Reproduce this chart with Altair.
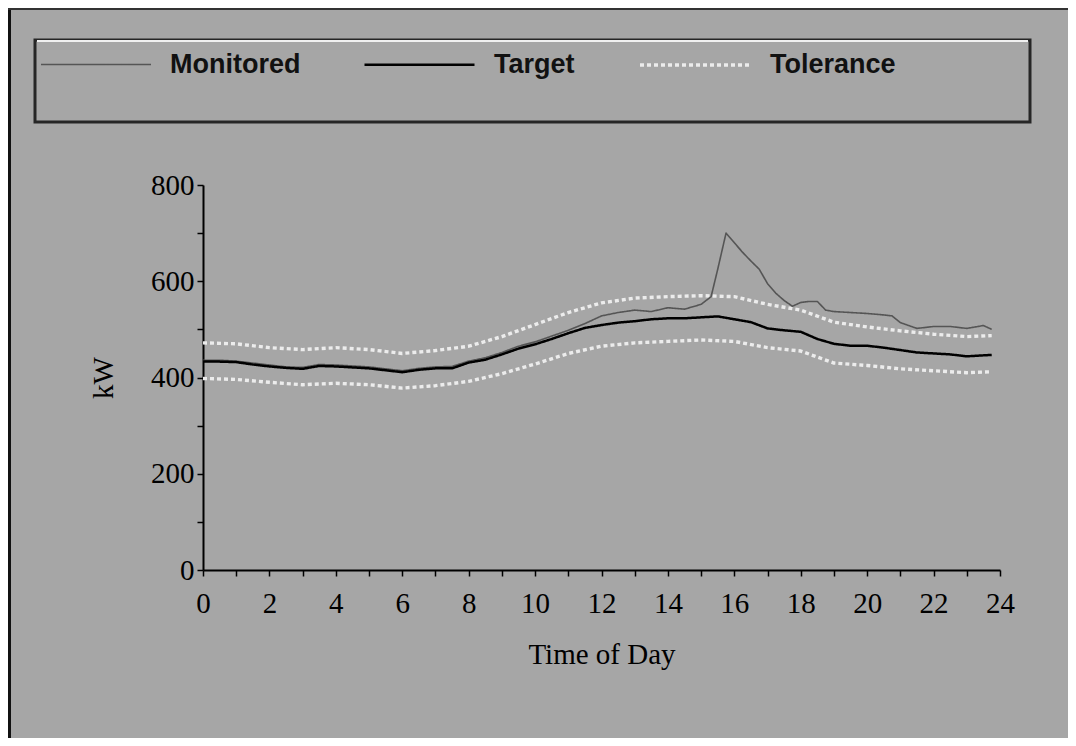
import altair as alt
import pandas as pd

# ---- data ----
hours = [0, 0.5, 1, 1.5, 2, 2.5, 3, 3.5, 4, 4.5, 5, 5.5, 6, 6.5, 7, 7.5, 8, 8.5, 9, 9.5,
         10, 10.5, 11, 11.5, 12, 12.5, 13, 13.5, 14, 14.5, 15, 15.5, 16, 16.5, 17, 17.5,
         18, 18.5, 19, 19.5, 20, 20.5, 21, 21.5, 22, 22.5, 23, 23.5, 23.75]
target = [433, 433, 432, 427, 423, 420, 418, 424, 423, 421, 419, 415, 411, 416, 419, 419,
          431, 437, 448, 460, 469, 480, 492, 503, 509, 514, 517, 521, 523, 523, 525, 527,
          521, 515, 502, 498, 495, 480, 470, 466, 466, 462, 457, 452, 450, 448, 444, 446, 447]

mon_hours = [0, 0.5, 1, 1.5, 2, 2.5, 3, 3.5, 4, 4.5, 5, 5.5, 6, 6.5, 7, 7.5, 8, 8.5, 9, 9.5,
             10, 10.5, 11, 11.5, 12, 12.5, 13, 13.5, 14, 14.5, 15, 15.3, 15.5, 15.75, 16,
             16.25, 16.5, 16.75, 17, 17.25, 17.5, 17.75, 18, 18.25, 18.5, 18.75, 19, 19.5,
             20, 20.5, 20.75, 21, 21.5, 22, 22.5, 23, 23.5, 23.75]
monitored = [436, 436, 434, 430, 426, 422, 421, 427, 426, 424, 422, 418, 414, 419, 422, 423,
             434, 441, 452, 465, 474, 486, 498, 512, 528, 535, 540, 537, 545, 542, 552, 568,
             625, 700, 680, 660, 642, 625, 595, 575, 560, 548, 556, 558, 558, 540, 537, 535,
             533, 530, 528, 514, 502, 506, 506, 502, 508, 500]

tol_hours = [0, 1, 2, 3, 4, 5, 6, 7, 8, 9, 10, 11, 12, 13, 14, 15, 16, 17, 18, 19, 20,
             21, 22, 23, 23.75]
tol_upper = [472, 470, 462, 458, 462, 458, 450, 456, 465, 485, 510, 535, 555, 565, 568,
             570, 568, 552, 540, 515, 505, 497, 490, 485, 487]
tol_lower = [398, 396, 390, 385, 388, 385, 378, 383, 392, 408, 428, 450, 465, 472, 475,
             478, 475, 462, 455, 430, 425, 418, 414, 410, 412]

series_names = ["Monitored", "Target", "Tolerance"]
series_colors = ["#555555", "#000000", "#ececec"]
series_dash = [[1, 0], [1, 0], [4, 3]]
series_widths = [1.6, 3.4, 1.5]

rows = []
for h, v in zip(tol_hours, tol_upper):
    rows.append({"hour": h, "kw": v, "series": "Tolerance", "part": "upper"})
for h, v in zip(tol_hours, tol_lower):
    rows.append({"hour": h, "kw": v, "series": "Tolerance", "part": "lower"})
for h, v in zip(mon_hours, monitored):
    rows.append({"hour": h, "kw": v, "series": "Monitored", "part": "m"})
for h, v in zip(hours, target):
    rows.append({"hour": h, "kw": v, "series": "Target", "part": "t"})
df = pd.DataFrame(rows)

legend = alt.Legend(
    title=None, orient="none", legendX=-163, legendY=-177, direction="horizontal",
    symbolType="stroke", symbolSize=12100, labelFont="Liberation Sans",
    labelFontSize=27, labelFontWeight="bold", labelColor="#111111",
    labelOffset=18, columnPadding=58, padding=0, labelLimit=400,
)
color = alt.Color("series:N", scale=alt.Scale(domain=series_names, range=series_colors), legend=legend)
dash = alt.StrokeDash("series:N", scale=alt.Scale(domain=series_names, range=series_dash), legend=legend)
width_enc = alt.StrokeWidth("series:N", scale=alt.Scale(domain=series_names, range=series_widths), legend=legend)

x_enc = alt.X(
    "hour:Q", scale=alt.Scale(domain=[0, 24], nice=False, zero=False),
    axis=alt.Axis(values=list(range(25)), format="d",
                  labelExpr="datum.value % 2 == 0 ? datum.label : ''",
                  title="Time of Day", labelPadding=13, titlePadding=22,
                  labelFlush=False, labelOverlap=False),
)
y_enc = alt.Y(
    "kw:Q", scale=alt.Scale(domain=[0, 800], nice=False),
    axis=alt.Axis(values=list(range(0, 801, 100)), format="d",
                  labelExpr="datum.value % 200 == 0 ? datum.label : ''",
                  title="kW", labelPadding=3, titlePadding=32, labelOverlap=False),
)

base = alt.Chart(df)


def series_layer(name):
    return base.transform_filter(alt.datum.series == name).mark_line(
        strokeJoin="round", interpolate="linear"
    ).encode(x=x_enc, y=y_enc, color=color, strokeDash=dash, strokeWidth=width_enc,
             detail="part:N")


deco = alt.Chart(pd.DataFrame({"a": [0]}))
box = deco.mark_rect(fillOpacity=0, stroke="#262626", strokeWidth=3).encode(
    x=alt.value(-168), x2=alt.value(827), y=alt.value(-145), y2=alt.value(-63))
box_hi = deco.mark_rule(color="#f0f0f0", strokeWidth=2).encode(
    x=alt.value(-166), x2=alt.value(825), y=alt.value(-144))
border_left = deco.mark_rule(color="#111111", strokeWidth=4).encode(
    x=alt.value(-194), y=alt.value(-177), y2=alt.value(553))
border_top = deco.mark_rule(color="#333333", strokeWidth=2).encode(
    x=alt.value(-195), x2=alt.value(865), y=alt.value(-176))

chart = alt.layer(
    border_left, border_top, box, box_hi,
    series_layer("Tolerance"), series_layer("Monitored"), series_layer("Target"),
).properties(
    width=797, height=385,
    padding={"left": 195, "top": 177, "right": 68, "bottom": 168},
    autosize=alt.AutoSizeParams(type="none"),
    background="#a6a6a6",
).configure_view(strokeWidth=0).configure_axis(
    grid=False, domainColor="#000000", domainWidth=2, tickColor="#000000",
    tickWidth=1.5, tickSize=6, labelFont="Liberation Serif", labelFontSize=29,
    labelColor="#000000", titleFont="Liberation Serif", titleFontSize=29,
    titleFontWeight="normal", titleColor="#000000",
)

chart.save("out.html", embed_options={"renderer": "svg", "actions": False})
